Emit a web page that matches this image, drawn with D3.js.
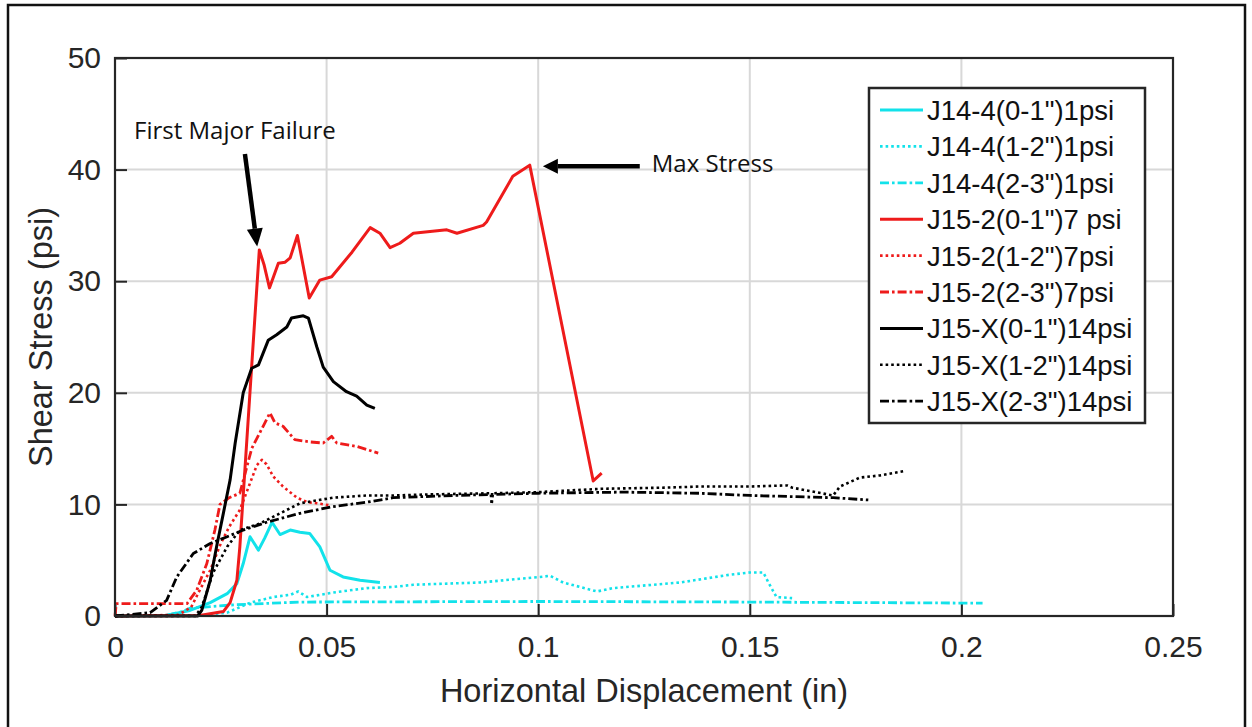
<!DOCTYPE html>
<html>
<head>
<meta charset="utf-8">
<script src="https://cdn.jsdelivr.net/npm/d3@7"></script>
<style>
  html, body { margin: 0; padding: 0; background: #fff; }
  svg { display: block; }
</style>
</head>
<body>
<svg id="chart" width="1252" height="727"></svg>
<script>
// ---- data: [horizontal displacement (in), shear stress (psi)] ----
const j14_4_01 = [[0,0],[0.012,0.05],[0.0177,0.5],[0.0225,1.2],[0.0265,2.0],[0.0288,2.9],[0.0303,4.7],[0.0319,7.1],[0.0339,5.9],[0.0354,7.0],[0.0371,8.4],[0.039,7.3],[0.0414,7.7],[0.0437,7.5],[0.046,7.4],[0.0484,6.2],[0.0508,4.1],[0.0539,3.5],[0.0579,3.2],[0.0626,3.0]];
const j14_4_12 = [[0,0],[0.02,0.05],[0.0265,0.3],[0.032,1.2],[0.0374,1.7],[0.0414,1.9],[0.0433,2.2],[0.0454,1.7],[0.0515,2.1],[0.0595,2.5],[0.0657,2.6],[0.0705,2.8],[0.0862,3.0],[0.1004,3.5],[0.1028,3.6],[0.1059,3.0],[0.1139,2.2],[0.1177,2.5],[0.1335,3.0],[0.1453,3.7],[0.150,3.9],[0.1532,3.9],[0.1544,3.0],[0.1563,1.7],[0.160,1.6]];
const j14_4_23 = [[0,0],[0.012,0.05],[0.016,0.4],[0.0177,0.7],[0.028,1.0],[0.0437,1.25],[0.1,1.3],[0.15,1.25],[0.205,1.15]];
const j15_2_01 = [[0,0],[0.02,0.05],[0.0256,0.4],[0.0272,1.2],[0.0288,3.2],[0.0295,6.2],[0.0341,32.8],[0.0352,31.5],[0.0365,29.4],[0.0386,31.6],[0.0402,31.7],[0.0414,32.1],[0.0431,34.1],[0.0459,28.5],[0.0484,30.1],[0.0512,30.4],[0.056,32.6],[0.0603,34.8],[0.0626,34.3],[0.065,33.0],[0.0673,33.4],[0.0705,34.3],[0.0784,34.6],[0.0808,34.3],[0.087,35.0],[0.0878,35.3],[0.094,39.4],[0.098,40.4],[0.113,12.1],[0.115,12.8]];
const j15_2_12 = [[0,0],[0.015,0.1],[0.018,0.8],[0.020,2.3],[0.0225,4.1],[0.025,6.5],[0.027,8.0],[0.0295,9.5],[0.0315,11.5],[0.0335,13.5],[0.0347,14.0],[0.0358,13.6],[0.0374,12.5],[0.0397,11.6],[0.043,10.6],[0.0455,10.2],[0.0477,10.1],[0.051,9.9]];
const j15_2_23 = [[0,0],[0.0003,1.1],[0.017,1.1],[0.0193,2.3],[0.0217,4.7],[0.0236,7.7],[0.0248,10.0],[0.027,10.6],[0.0295,11.0],[0.0323,15.0],[0.035,17.0],[0.0366,18.2],[0.0378,17.3],[0.0397,17.0],[0.0425,15.8],[0.046,15.6],[0.0492,15.5],[0.0512,16.1],[0.0524,15.5],[0.0571,15.2],[0.0622,14.6]];
const j15_x_01 = [[0,0],[0.0195,0],[0.0205,0.5],[0.0225,3.2],[0.024,6.2],[0.0256,9.2],[0.0272,12.2],[0.0284,15.5],[0.0303,20.0],[0.0323,22.2],[0.0339,22.5],[0.0362,24.7],[0.0382,25.2],[0.0406,25.9],[0.0417,26.7],[0.0445,26.9],[0.0457,26.7],[0.0477,24.1],[0.0492,22.3],[0.0516,21.0],[0.0547,20.1],[0.0571,19.7],[0.0595,18.9],[0.0614,18.6]];
const j15_x_12 = [[0,0],[0.019,0],[0.0205,0.8],[0.0232,3.9],[0.0265,6.2],[0.0295,7.7],[0.0343,8.3],[0.039,9.2],[0.0437,10.1],[0.0515,10.6],[0.0595,10.8],[0.0657,10.8],[0.075,10.9],[0.0888,11.0],[0.089,10.0],[0.0893,11.0],[0.1,11.1],[0.115,11.4],[0.13,11.5],[0.138,11.6],[0.15,11.6],[0.1588,11.7],[0.16,11.5],[0.1697,10.8],[0.1713,11.6],[0.176,12.4],[0.1808,12.6],[0.1867,13.0]];
const j15_x_23 = [[0,0],[0.0083,0.3],[0.0122,1.4],[0.0146,3.5],[0.0185,5.6],[0.0225,6.5],[0.0265,7.1],[0.0303,7.7],[0.0358,8.4],[0.0437,9.2],[0.0515,9.8],[0.0595,10.2],[0.0657,10.6],[0.08,10.8],[0.1,11.0],[0.12,11.1],[0.138,11.0],[0.15,10.8],[0.16,10.7],[0.1697,10.6],[0.178,10.4]];

const seriesNames = ['J14-4(0-1")1psi','J14-4(1-2")1psi','J14-4(2-3")1psi','J15-2(0-1")7 psi','J15-2(1-2")7psi','J15-2(2-3")7psi','J15-X(0-1")14psi','J15-X(1-2")14psi','J15-X(2-3")14psi'];
const seriesData = [j14_4_01, j14_4_12, j14_4_23, j15_2_01, j15_2_12, j15_2_23, j15_x_01, j15_x_12, j15_x_23];
const seriesColors = ['#12e2ea','#12e2ea','#12e2ea','#ee1b1b','#ee1b1b','#ee1b1b','#000','#000','#000'];
const seriesStyles = ['solid','dotted','dashdot','solid','dotted','dashdot','solid','dotted','dashdot'];

const xTicks = [0, 0.05, 0.1, 0.15, 0.2, 0.25];
const xTickLabels = ['0','0.05','0.1','0.15','0.2','0.25'];
const yTicks = [0, 10, 20, 30, 40, 50];

// annotation anchors in data units
const maxStressArrow = {tail: [0.124, 40.3], tip: [0.1011, 40.3]};
const failureArrow = {tail: [0.0307, 41.4], tip: [0.0336, 33.1]};

// ---- layout ----
const svg = d3.select('#chart');
const plot = {left: 115, right: 1173, top: 58, bottom: 616};
const x = d3.scaleLinear().domain([0, 0.25]).range([plot.left, plot.right]);
const y = d3.scaleLinear().domain([0, 50]).range([plot.bottom, plot.top]);

const dashFor = {solid: null, dotted: '2.6,3', dashdot: '9,3,2.6,3'};
const widthFor = {solid: 3, dotted: 2.6, dashdot: 2.8};

// figure border
svg.append('rect').attr('x', 8).attr('y', 5).attr('width', 1237).attr('height', 740)
  .attr('fill', 'none').attr('stroke', '#111').attr('stroke-width', 2.5);

// grid
const grid = svg.append('g');
grid.selectAll('line.gx').data(xTicks.slice(1, -1)).join('line')
  .attr('x1', d => x(d)).attr('x2', d => x(d)).attr('y1', plot.top).attr('y2', plot.bottom)
  .attr('stroke', '#d8d8d8').attr('stroke-width', 2);
grid.selectAll('line.gy').data(yTicks.slice(1, -1)).join('line')
  .attr('y1', d => y(d)).attr('y2', d => y(d)).attr('x1', plot.left).attr('x2', plot.right)
  .attr('stroke', '#d8d8d8').attr('stroke-width', 2);

// axes (ticks point inward)
const font = "'Liberation Sans', Arial, sans-serif";
const xAxis = d3.axisBottom(x).tickValues(xTicks).tickFormat((d, i) => xTickLabels[i])
  .tickSizeInner(-12).tickSizeOuter(0).tickPadding(20);
const yAxis = d3.axisLeft(y).tickValues(yTicks).tickFormat(d3.format('d'))
  .tickSizeInner(-12).tickSizeOuter(0).tickPadding(14);

const gx = svg.append('g').attr('transform', `translate(0,${plot.bottom})`).call(xAxis);
const gy = svg.append('g').attr('transform', `translate(${plot.left},0)`).call(yAxis);
[gx, gy].forEach(g => {
  g.select('.domain').remove();
  g.selectAll('.tick line').attr('stroke', '#262626').attr('stroke-width', 2);
  g.selectAll('.tick text').attr('font-family', font).attr('font-size', 30).attr('fill', '#262626');
});
gx.selectAll('.tick text').attr('dy', '0.71em');

// lines
const line = d3.line().x(d => x(d[0])).y(d => y(d[1]));
const lines = svg.append('g');
seriesData.forEach((data, i) => {
  lines.append('path').datum(data).attr('d', line)
    .attr('fill', 'none').attr('stroke', seriesColors[i])
    .attr('stroke-width', widthFor[seriesStyles[i]])
    .attr('stroke-dasharray', dashFor[seriesStyles[i]])
    .attr('stroke-linejoin', 'round');
});

// plot frame
svg.append('rect').attr('x', plot.left).attr('y', plot.top)
  .attr('width', plot.right - plot.left).attr('height', plot.bottom - plot.top)
  .attr('fill', 'none').attr('stroke', '#262626').attr('stroke-width', 2.2);

// axis titles
svg.append('text').attr('x', (plot.left + plot.right) / 2).attr('y', 702)
  .attr('text-anchor', 'middle').attr('font-family', font).attr('font-size', 32.5).attr('fill', '#262626')
  .text('Horizontal Displacement (in)');
svg.append('text').attr('transform', `translate(52,${(plot.top + plot.bottom) / 2}) rotate(-90)`)
  .attr('text-anchor', 'middle').attr('font-family', font).attr('font-size', 32.5).attr('fill', '#262626')
  .text('Shear Stress (psi)');

// legend
const legend = svg.append('g');
const lg = {x: 869, y: 88, w: 276, h: 335, row: 36.4, first: 110};
legend.append('rect').attr('x', lg.x).attr('y', lg.y).attr('width', lg.w).attr('height', lg.h)
  .attr('fill', '#fff').attr('stroke', '#262626').attr('stroke-width', 2.5);
seriesNames.forEach((name, i) => {
  const cy = lg.first + i * lg.row;
  legend.append('line').attr('x1', 880).attr('x2', 923).attr('y1', cy).attr('y2', cy)
    .attr('stroke', seriesColors[i]).attr('stroke-width', widthFor[seriesStyles[i]])
    .attr('stroke-dasharray', dashFor[seriesStyles[i]]);
  legend.append('text').attr('x', 927).attr('y', cy + 10)
    .attr('font-family', font).attr('font-size', 27.5).attr('fill', '#111').text(name);
});

// annotations
const annFont = "'Open Sans', sans-serif";
function arrow(a, head, width) {
  const [x0, y0] = [x(a.tail[0]), y(a.tail[1])];
  const [x1, y1] = [x(a.tip[0]), y(a.tip[1])];
  const ang = Math.atan2(y1 - y0, x1 - x0);
  const bx = x1 - head * Math.cos(ang), by = y1 - head * Math.sin(ang);
  svg.append('line').attr('x1', x0).attr('y1', y0).attr('x2', bx).attr('y2', by)
    .attr('stroke', '#000').attr('stroke-width', 4.5);
  const px = -Math.sin(ang) * width / 2, py = Math.cos(ang) * width / 2;
  svg.append('path').attr('d', `M${x1},${y1}L${bx + px},${by + py}L${bx - px},${by - py}Z`).attr('fill', '#000');
}
arrow(maxStressArrow, 15, 15);
arrow(failureArrow, 18, 16);

svg.append('text').attr('x', x(maxStressArrow.tail[0]) + 12).attr('y', 172)
  .attr('font-family', annFont).attr('font-size', 24).attr('fill', '#111').text('Max Stress');
svg.append('text').attr('x', 134).attr('y', 139)
  .attr('font-family', annFont).attr('font-size', 24).attr('fill', '#111').text('First Major Failure');
</script>
</body>
</html>
